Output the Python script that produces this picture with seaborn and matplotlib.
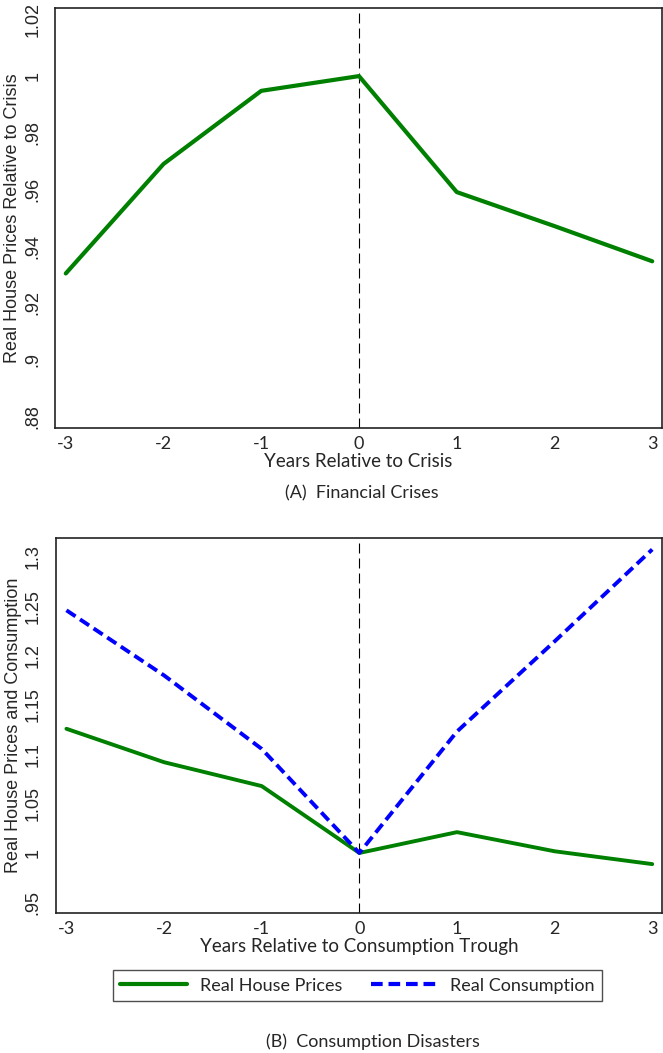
import numpy as np
import pandas as pd
import matplotlib
matplotlib.use("Agg")
import matplotlib.pyplot as plt
import seaborn as sns

sns.set_style("white")
plt.rcParams['font.family'] = ['Liberation Sans', 'DejaVu Sans']

# Data
years = [-3, -2, -1, 0, 1, 2, 3]
crisis_house = [0.9304, 0.9690, 0.9948, 1.0000, 0.9591, 0.9471, 0.9347]
trough_house = [1.1259, 1.0920, 1.0678, 1.0000, 1.0211, 1.0017, 0.9887]
trough_cons = [1.2460, 1.1800, 1.1055, 1.0000, 1.1231, 1.2145, 1.3077]

top_yticks = [0.88, 0.90, 0.92, 0.94, 0.96, 0.98, 1.00, 1.02]
top_ylabels = ['.88', '.9', '.92', '.94', '.96', '.98', '1', '1.02']
bot_yticks = [0.95, 1.00, 1.05, 1.10, 1.15, 1.20, 1.25, 1.30]
bot_ylabels = ['.95', '1', '1.05', '1.1', '1.15', '1.2', '1.25', '1.3']

GREEN = '#008000'
BLUE = '#0000ff'
XFONT = 'Lato'

df_a = pd.DataFrame({'year': years, 'value': crisis_house})
df_b = pd.DataFrame({'year': years * 2,
                     'value': trough_house + trough_cons,
                     'series': ['Real House Prices'] * 7 + ['Real Consumption'] * 7})

fig = plt.figure(figsize=(6.63, 10.53), dpi=100)
ax1 = fig.add_axes([0.083, 0.5938, 0.9155, 0.3983])
ax2 = fig.add_axes([0.084, 0.1333, 0.9145, 0.3555])


def style_axis(ax, yticks, ylabels, ylim, ylabel, xlabel):
    ax.set_xlim(-3.11, 3.1)
    ax.set_ylim(*ylim)
    ax.set_xticks(years)
    ax.set_xticklabels([str(y) for y in years], family=XFONT, fontsize=13)
    ax.set_yticks(yticks)
    ax.set_yticklabels(ylabels, rotation=90, va='center', fontsize=13)
    ax.tick_params(axis='y', direction='out', length=6, width=1, color='#333333', pad=4)
    ax.tick_params(axis='x', direction='out', length=5, width=1, color='#333333', pad=1)
    ax.set_ylabel(ylabel, fontsize=13, labelpad=2)
    ax.set_xlabel(xlabel, family=XFONT, fontsize=13.5, labelpad=1)
    for s in ax.spines.values():
        s.set_color('#222222')
        s.set_linewidth(1.2)
    ax.axvline(0, color='black', lw=0.8, ls=(0, (9, 4.5)), zorder=1)


# Panel A
sns.lineplot(data=df_a, x='year', y='value', ax=ax1, color=GREEN, lw=3.0, zorder=3)
style_axis(ax1, top_yticks, top_ylabels, (0.876, 1.0239),
           'Real House Prices Relative to Crisis', 'Years Relative to Crisis')
fig.text(0.545, 1 - 493 / 1053, '(A)  Financial Crises', ha='center', va='center',
         family=XFONT, fontsize=13)

# Panel B
sns.lineplot(data=df_b, x='year', y='value', hue='series', style='series',
             palette={'Real House Prices': GREEN, 'Real Consumption': BLUE},
             dashes={'Real House Prices': '', 'Real Consumption': (2.8, 1.4)},
             ax=ax2, lw=2.8, zorder=3)
style_axis(ax2, bot_yticks, bot_ylabels, (0.9395, 1.319),
           'Real House Prices and Consumption', 'Years Relative to Consumption Trough')
leg = ax2.legend(loc='upper center', bbox_to_anchor=(0.498, -0.13), ncol=2,
                 frameon=True, fancybox=False, edgecolor='#222222',
                 handlelength=3.7, handletextpad=0.7, columnspacing=1.6, borderpad=0.4,
                 prop={'family': XFONT, 'size': 13})
leg.get_frame().set_linewidth(1.0)
for h in leg.get_lines():
    h.set_linewidth(3.0)
fig.text(0.563, 1 - 1042 / 1053, '(B)  Consumption Disasters', ha='center', va='center',
         family=XFONT, fontsize=13)

fig.savefig('out.png', dpi=100)
